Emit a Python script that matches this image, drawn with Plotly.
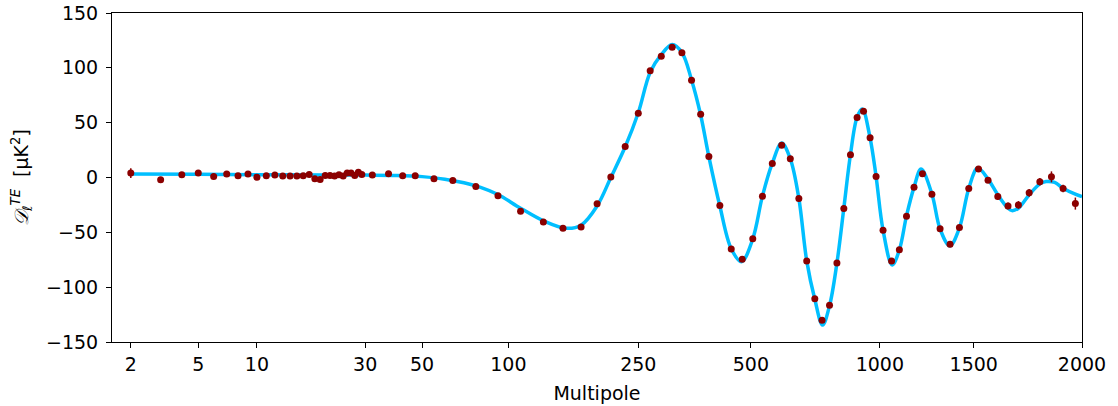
import numpy as np
import plotly.graph_objects as go

# x axis scale: tick multipoles and where they sit on the axis
tick_ell = [2, 5, 10, 30, 50, 100, 250, 500, 1000, 1500, 2000]
tick_pos = [130.5, 198, 256.7, 365, 422, 508.3, 638.3, 751, 880, 974, 1082.3]

def xscale(ell):
    return np.interp(np.log10(ell), np.log10(tick_ell), tick_pos)

# unbinned low-ell points
ell_low = list(range(2, 30))
dte_low = [4.0, -2.1, 2.5, 4.0, 0.9, 3.1, 1.6, 3.1, 0.3, 1.6, 2.2, 1.3, 1.3, 1.3,
           1.6, 2.8, -1.2, -1.8, 1.9, 1.9, 1.3, 2.5, 1.3, 4.0, 4.0, 1.9, 4.9, 2.8]
err_low = [4.5, 2.5] + [1.5] * 26

# binned high-ell points
ell_bin = [32, 37, 42, 47, 55, 64, 77, 92, 109, 128, 147, 167, 187, 206, 228, 250,
           269, 288, 308, 327, 347, 367, 386, 413, 443, 474, 505, 532, 561, 590,
           618, 647, 675, 705, 733, 763, 794, 824, 854, 885, 916, 949, 980, 1014,
           1052, 1088, 1122, 1159, 1202, 1252, 1297, 1354, 1410, 1468, 1519, 1558,
           1599, 1643, 1689, 1738, 1788, 1844, 1902, 1965]
dte_bin = [2.2, 3.4, 1.6, 1.6, -1.2, -2.7, -8.2, -16.7, -30.7, -40.5, -46.3, -45.1,
           -24.0, 0.4, 28.3, 58.5, 97.3, 110.6, 118.8, 113.7, 88.7, 57.6, 19.2,
           -25.6, -65.2, -74.6, -55.8, -17.0, 12.8, 29.3, 17.0, -19.2, -76.1,
           -110.6, -130.1, -116.6, -78.0, -28.3, 20.7, 54.8, 60.3, 36.3, 0.9,
           -48.1, -76.1, -65.8, -35.3, -8.8, 3.4, -15.2, -46.7, -60.9, -45.7,
           -10.0, 7.7, -2.4, -17.4, -25.9, -25.0, -14.0, -3.9, 0.6, -10.0, -23.8]
err_bin = [1.2] * 52 + [2.0, 2.5, 2.5, 2.5, 3.0, 3.0, 3.5, 3.5, 3.5, 5.0, 3.5, 5.5]

# best-fit model curve
ell_model = [2, 5, 10, 20, 30, 40, 50, 60, 70, 80, 92, 109, 128, 150, 167, 187, 206,
             228, 250, 269, 288, 308, 327, 347, 367, 386, 413, 443, 472, 505, 532,
             561, 590, 618, 647, 675, 705, 735, 763, 794, 824, 854, 885, 910, 949,
             980, 1014, 1055, 1088, 1122, 1159, 1195, 1252, 1297, 1353, 1410, 1468,
             1516, 1558, 1599, 1643, 1660, 1689, 1738, 1788, 1818, 1860, 1902, 1965,
             2000]
dte_model = [3.2, 3.0, 2.6, 2.3, 2.2, 1.9, 0.8, -1.5, -4.8, -9.0, -15.5, -28.0,
             -39.5, -46.3, -43.5, -26.0, 0.0, 28.0, 59.0, 96.0, 112.0, 121.3, 114.0,
             89.0, 57.0, 19.0, -26.0, -65.0, -76.8, -56.0, -17.0, 13.0, 31.4, 17.0,
             -19.0, -76.0, -111.0, -134.6, -117.0, -78.0, -28.0, 21.0, 55.0, 62.5,
             36.0, 1.0, -48.0, -79.8, -66.0, -35.0, -9.0, 7.7, -15.0, -47.0, -62.4,
             -46.0, -10.0, 8.6, -1.5, -15.8, -28.0, -30.2, -28.0, -15.8, -5.8, -3.7,
             -4.5, -9.7, -15.2, -17.5]

ell_pts = ell_low + ell_bin
dte_pts = dte_low + dte_bin
err_pts = err_low + err_bin

fig = go.Figure()
fig.add_trace(go.Scatter(
    x=xscale(ell_model), y=dte_model, mode="lines", line_shape="spline",
    line=dict(color="#00bfff", width=3.5), hoverinfo="skip"))
fig.add_trace(go.Scatter(
    x=xscale(ell_pts), y=dte_pts, mode="markers",
    marker=dict(color="#8b0000", size=7),
    error_y=dict(type="data", array=err_pts, color="#8b0000", thickness=1.5, width=0)))

axis_common = dict(showline=True, linecolor="black", linewidth=1, mirror=True,
                   ticks="outside", ticklen=5, tickcolor="black", showgrid=False,
                   zeroline=False, automargin=False, ticklabeloverflow="allow",
                   tickfont=dict(size=19, color="black"))

fig.update_xaxes(range=[111.7, 1082.3], tickmode="array",
                 tickvals=xscale(tick_ell), ticktext=[str(t) for t in tick_ell],
                 title=dict(text="Multipole", font=dict(size=19, color="black"), standoff=12),
                 **axis_common)
fig.update_yaxes(range=[-150, 150], tickvals=[-150, -100, -50, 0, 50, 100, 150],
                 ticklabelstandoff=4,
                 title=dict(text="<i>𝒟<sub>ℓ</sub><sup>TE</sup></i>  [μK<sup>2</sup>]",
                            font=dict(size=19, color="black"), standoff=12),
                 **axis_common)

fig.update_layout(width=1118, height=406, showlegend=False,
                  plot_bgcolor="white", paper_bgcolor="white",
                  font=dict(family="DejaVu Sans", color="black"),
                  margin=dict(l=112, r=36, t=13, b=64, autoexpand=False))

# drop the default page margin so the figure sits at the window's corner
fig.write_html("out.html", config={"displayModeBar": False},
               post_script="document.body.style.margin='0px';")
